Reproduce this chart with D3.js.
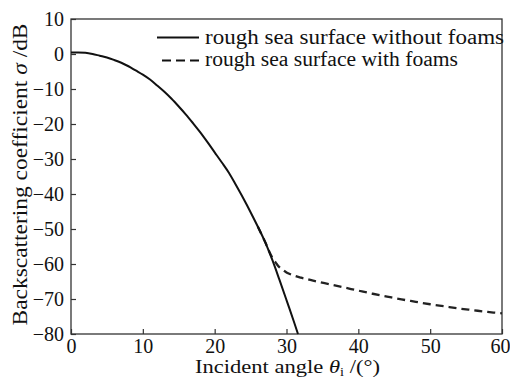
<!DOCTYPE html>
<html>
<head>
<meta charset="utf-8">
<script src="https://cdn.jsdelivr.net/npm/d3@7"></script>
<style>
  html, body { margin: 0; padding: 0; background: #fff; }
  svg { display: block; }
  text { font-family: "Liberation Serif", "Times New Roman", serif; fill: #111; }
</style>
</head>
<body>
<svg id="chart" width="510" height="379"></svg>
<script>
// Backscattering coefficient (dB) versus incident angle (degrees)
const cleanAngles = [0, 1, 2, 3, 4, 5, 6, 7, 8, 9, 10, 11, 12, 13, 14, 15, 16, 17, 18, 19, 20,
                     21, 22, 23, 24, 25, 26, 27, 28, 29, 30, 31, 31.6];
const cleanSigma  = [0.4, 0.45, 0.35, 0.0, -0.5, -1.0, -1.7, -2.5, -3.5, -4.7, -5.9, -7.3, -9.0,
                     -10.8, -12.8, -15.0, -17.3, -19.8, -22.4, -25.2, -28.1, -31.0, -34.0, -37.6,
                     -41.3, -45.2, -49.3, -53.6, -58.7, -64.4, -70.3, -76.3, -80.0];

const foamAngles = [26, 27, 27.5, 28, 28.5, 29, 30, 31, 32, 33, 34, 36, 38, 40, 42, 44, 46, 48,
                    50, 52, 54, 56, 58, 60];
const foamSigma  = [-49.3, -53.6, -56.0, -58.1, -59.6, -60.9, -62.4, -63.3, -63.9, -64.4, -64.9,
                    -65.8, -66.7, -67.6, -68.5, -69.3, -70.1, -70.8, -71.5, -72.1, -72.7, -73.2,
                    -73.7, -74.1];

const xTicks = [0, 10, 20, 30, 40, 50, 60];
const yTicks = [10, 0, -10, -20, -30, -40, -50, -60, -70, -80];

const legendLabels = ["rough sea surface without foams", "rough sea surface with foams"];

const svg = d3.select("#chart");
const plot = { left: 71, right: 502, top: 19, bottom: 334 };
const serif = "Liberation Serif, Times New Roman, serif";

const x = d3.scaleLinear().domain([0, 60]).range([plot.left, plot.right]);
const y = d3.scaleLinear().domain([-80, 10]).range([plot.bottom, plot.top]);

const fmt = d => d3.format("")(d).replace("-", "\u2212");

// Axes with inward ticks
const gx = svg.append("g")
  .attr("transform", `translate(0,${plot.bottom})`)
  .call(d3.axisBottom(x).tickValues(xTicks).tickFormat(fmt)
        .tickSizeInner(-5).tickSizeOuter(0).tickPadding(5));
gx.select(".domain").remove();
gx.selectAll(".tick line").attr("stroke", "#333").attr("stroke-width", 1.2);
gx.selectAll(".tick text").attr("font-size", 20).attr("fill", "#111")
  .attr("font-family", serif)
  .attr("dx", d => d === 60 ? -2 : 0);   // keep the last label inside the page

const gy = svg.append("g")
  .attr("transform", `translate(${plot.left},0)`)
  .call(d3.axisLeft(y).tickValues(yTicks).tickFormat(fmt)
        .tickSizeInner(-5).tickSizeOuter(0).tickPadding(7));
gy.select(".domain").remove();
gy.selectAll(".tick line").attr("stroke", "#333").attr("stroke-width", 1.2);
gy.selectAll(".tick text").attr("font-size", 20).attr("fill", "#111")
  .attr("font-family", serif).attr("dy", "0.34em");

// Frame
svg.append("rect")
  .attr("x", plot.left).attr("y", plot.top)
  .attr("width", plot.right - plot.left).attr("height", plot.bottom - plot.top)
  .attr("fill", "none").attr("stroke", "#333").attr("stroke-width", 1.3);

// Curves
const line = d3.line()
  .x(d => x(d[0])).y(d => y(d[1]))
  .curve(d3.curveCatmullRom.alpha(0.5));

const foamData = foamAngles.map((a, i) => [a, foamSigma[i]]);
const cleanData = cleanAngles.map((a, i) => [a, cleanSigma[i]]);

svg.append("path").datum(foamData)
  .attr("d", line).attr("fill", "none")
  .attr("stroke", "#222").attr("stroke-width", 2.3)
  .attr("stroke-dasharray", "8,5");

svg.append("path").datum(cleanData)
  .attr("d", line).attr("fill", "none")
  .attr("stroke", "#111").attr("stroke-width", 2);

// Legend
const legend = svg.append("g");
const rows = [
  { label: legendLabels[0], dash: null, x1: 157, y: 37.5, ty: 44, w: 299 },
  { label: legendLabels[1], dash: "9,5", x1: 162, y: 60.5, ty: 66, w: 253 }
];
rows.forEach(r => {
  legend.append("line")
    .attr("x1", r.x1).attr("x2", 199).attr("y1", r.y).attr("y2", r.y)
    .attr("stroke", "#111").attr("stroke-width", 2)
    .attr("stroke-dasharray", r.dash);
  legend.append("text")
    .attr("x", 205).attr("y", r.ty)
    .attr("font-size", 20)
    .attr("textLength", r.w).attr("lengthAdjust", "spacingAndGlyphs")
    .text(r.label);
});

// Axis titles
const xt = svg.append("text")
  .attr("x", (plot.left + plot.right) / 2 + 1).attr("y", 373)
  .attr("text-anchor", "middle").attr("font-size", 19)
  .attr("textLength", 185).attr("lengthAdjust", "spacingAndGlyphs");
xt.append("tspan").text("Incident angle ");
xt.append("tspan").attr("font-style", "italic").text("\u03b8");
xt.append("tspan").attr("font-size", 12).attr("dy", 3).text("i");
xt.append("tspan").attr("dy", -3).text(" /(\u00b0)");

const yt = svg.append("text")
  .attr("transform", `translate(27,${(plot.top + plot.bottom) / 2 - 2}) rotate(-90)`)
  .attr("text-anchor", "middle").attr("font-size", 21)
  .attr("textLength", 302).attr("lengthAdjust", "spacingAndGlyphs");
yt.append("tspan").text("Backscattering coefficient ");
yt.append("tspan").attr("font-style", "italic").text("\u03c3");
yt.append("tspan").text(" /dB");
</script>
</body>
</html>
